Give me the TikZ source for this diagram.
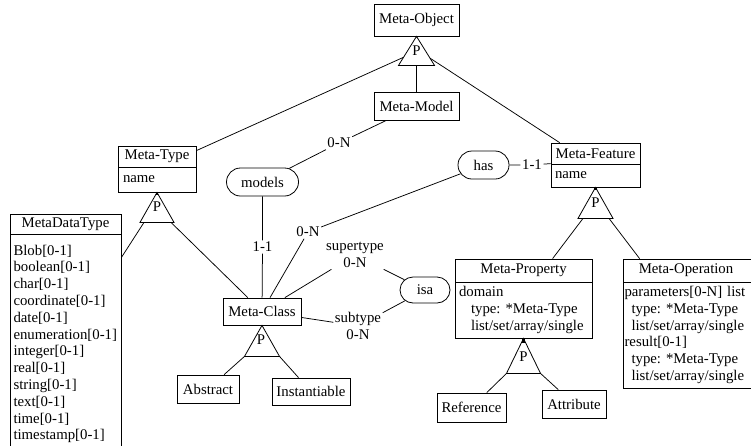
\documentclass[tikz,border=0pt]{standalone}
\usepackage{fontspec}
\setmainfont{Liberation Serif}
\usetikzlibrary{shapes.misc,calc}
\frenchspacing
\begin{document}
\begin{tikzpicture}[x=1pt,y=-1pt,
  every node/.style={font=\fontsize{14.8}{16.8}\selectfont, inner sep=0pt},
  box/.style={draw, line width=0.8pt, rectangle},
  bodybox/.style={draw, line width=0.8pt, rectangle, align=left},
  rel/.style={draw, line width=0.8pt, rounded rectangle},
  lab/.style={fill=white, inner sep=1.5pt, align=center},
  con/.style={line width=0.75pt},
  tri/.style={line width=0.8pt, line join=miter},
]
\useasboundingbox (0,0) rectangle (751,445);
\clip (0,0) rectangle (751,445);

% ---- boxes
\node[box, minimum width=85pt, minimum height=32pt] (mo) at (416.5,20) {Meta-Object};
\node[box, minimum width=85pt, minimum height=28pt] (mm) at (416.5,106) {Meta-Model};

\node[box, minimum width=78pt, minimum height=21pt] (mth) at (157,156.5) {Meta-Type};
\node[bodybox, minimum width=78pt, minimum height=25pt, inner xsep=5pt, text width=68pt] (mtb) at (157,179.5) {name};

\node[box, minimum width=111pt, minimum height=20pt] (mdth) at (65.5,224) {MetaDataType};
\node[bodybox, minimum width=111pt, minimum height=220pt, inner xsep=3.5pt, text width=104pt] (mdtb) at (65.5,344)
 {Blob[0-1]\\boolean[0-1]\\char[0-1]\\coordinate[0-1]\\date[0-1]\\enumeration[0-1]\\integer[0-1]\\real[0-1]\\string[0-1]\\text[0-1]\\time[0-1]\\timestamp[0-1]};

\node[rel, minimum width=72pt, minimum height=28pt] (models) at (262.5,182) {models};
\node[box, minimum width=78pt, minimum height=27pt] (mc) at (262,311.5) {Meta-Class};
\node[box, minimum width=62pt, minimum height=28pt] (abs) at (208,389) {Abstract};
\node[box, minimum width=78pt, minimum height=27pt] (inst) at (311,391.5) {Instantiable};

\node[rel, minimum width=51pt, minimum height=28pt] (has) at (483.5,165) {has};
\node[rel, minimum width=50pt, minimum height=26pt] (isa) at (425,290) {isa};

\node[box, minimum width=89pt, minimum height=21pt] (mfh) at (595.5,153.5) {Meta-Feature};
\node[bodybox, minimum width=89pt, minimum height=23pt, inner xsep=4pt, text width=81pt] (mfb) at (595.5,175.5) {name};

\node[box, minimum width=137pt, minimum height=23pt] (mph) at (523.5,270.5) {Meta-Property};
\node[bodybox, minimum width=137pt, minimum height=56pt, inner xsep=4pt, text width=129pt] (mpb) at (523.5,310)
 {domain\\\hspace*{12pt}type: *Meta-Type\\\hspace*{12pt}list/set/array/single};

\node[box, minimum width=69pt, minimum height=29pt] (ref) at (471.5,407.5) {Reference};
\node[box, minimum width=64pt, minimum height=28pt] (attr) at (574,404) {Attribute};

\node[box, minimum width=137pt, minimum height=23pt] (moph) at (691.5,270.5) {\makebox[126pt]{Meta-Operation}\hspace*{11pt}};
\node[bodybox, minimum width=137pt, minimum height=106pt, inner xsep=1.5pt, text width=134pt] (mopb) at (691.5,335)
 {parameters[0-N] list\\\hspace*{7pt}type: *Meta-Type\\\hspace*{7pt}list/set/array/single\\result[0-1]\\\hspace*{7pt}type: *Meta-Type\\\hspace*{7pt}list/set/array/single};

% ---- triangles
\draw[tri] (mo.south) -- ++(-18,29) coordinate (t1l) -- ++(36,0) coordinate (t1r) -- cycle;
\node (p1) at (416.5,51) {P};
\draw[tri] (mtb.south) -- ++(-17,30) coordinate (t2l) -- ++(34,0) coordinate (t2r) -- cycle;
\node (p2) at (157,207) {P};
\draw[tri] (mc.south) -- ++(-17.5,31) coordinate (t3l) -- ++(35,0) coordinate (t3r) -- cycle;
\node (p3) at (261,340) {P};
\draw[tri] (mfb.south) -- ++(-17.5,31) coordinate (t4l) -- ++(35,0) coordinate (t4r) -- cycle;
\node (p4) at (595.5,203) {P};
\draw[tri] (mpb.south) -- ++(-17,35) coordinate (t5l) -- ++(34,0) coordinate (t5r) -- cycle;
\node (p5) at (523.5,357) {P};

\fill (mtb.south) ++(-1.2,0) rectangle ++(2.4,3);
\fill (mfb.south) ++(-1.2,0) rectangle ++(2.4,3);
\fill (mpb.south) ++(-1.5,0) rectangle ++(3,5);

% ---- labels
\node[lab] (l0n1) at (339,143) {0-N};
\node[lab] (l11a) at (262.5,247) {1-1};
\node[lab] (l0n2) at (308,232) {0-N};
\node[lab] (lsup) at (355,255) {supertype\\0-N};
\node[lab] (lsub) at (358,326) {subtype\\0-N};
\node[lab] (l11b) at (532,165) {1-1};

% ---- connectors
\draw[con] ($(mo.south)!0.72!(t1l)$) -- ([yshift=-5pt]mth.north east);
\draw[con] ($(mo.south)!0.75!(t1r)$) -- ([xshift=9pt]mfh.north west);
\draw[con] ($(t1l)!0.5!(t1r)$) -- (mm.north);
\draw[con] (mm) -- (l0n1) -- (models);
\draw[con] (models) -- (l11a) -- (mc);
\draw[con] (has) -- (l0n2) -- (mc);
\draw[con] (mc) -- (lsup) -- (isa);
\draw[con] (mc) -- (lsub) -- (isa);
\draw[con] (has) -- (l11b) -- (mfb.north west);
\draw[con] ([xshift=4pt]t2l) -- (mdtb);
\draw[con] ([xshift=-3pt]t2r) -- (mc);
\draw[con] (t3l) -- (abs);
\draw[con] (t3r) -- (inst);
\draw[con] ([xshift=5pt]t4l) -- ([xshift=98pt]mph.north west);
\draw[con] ([xshift=-4pt]t4r) -- ([xshift=17pt]moph.north west);
\draw[con] (t5l) -- (ref);
\draw[con] (t5r) -- (attr);
\end{tikzpicture}
\end{document}
